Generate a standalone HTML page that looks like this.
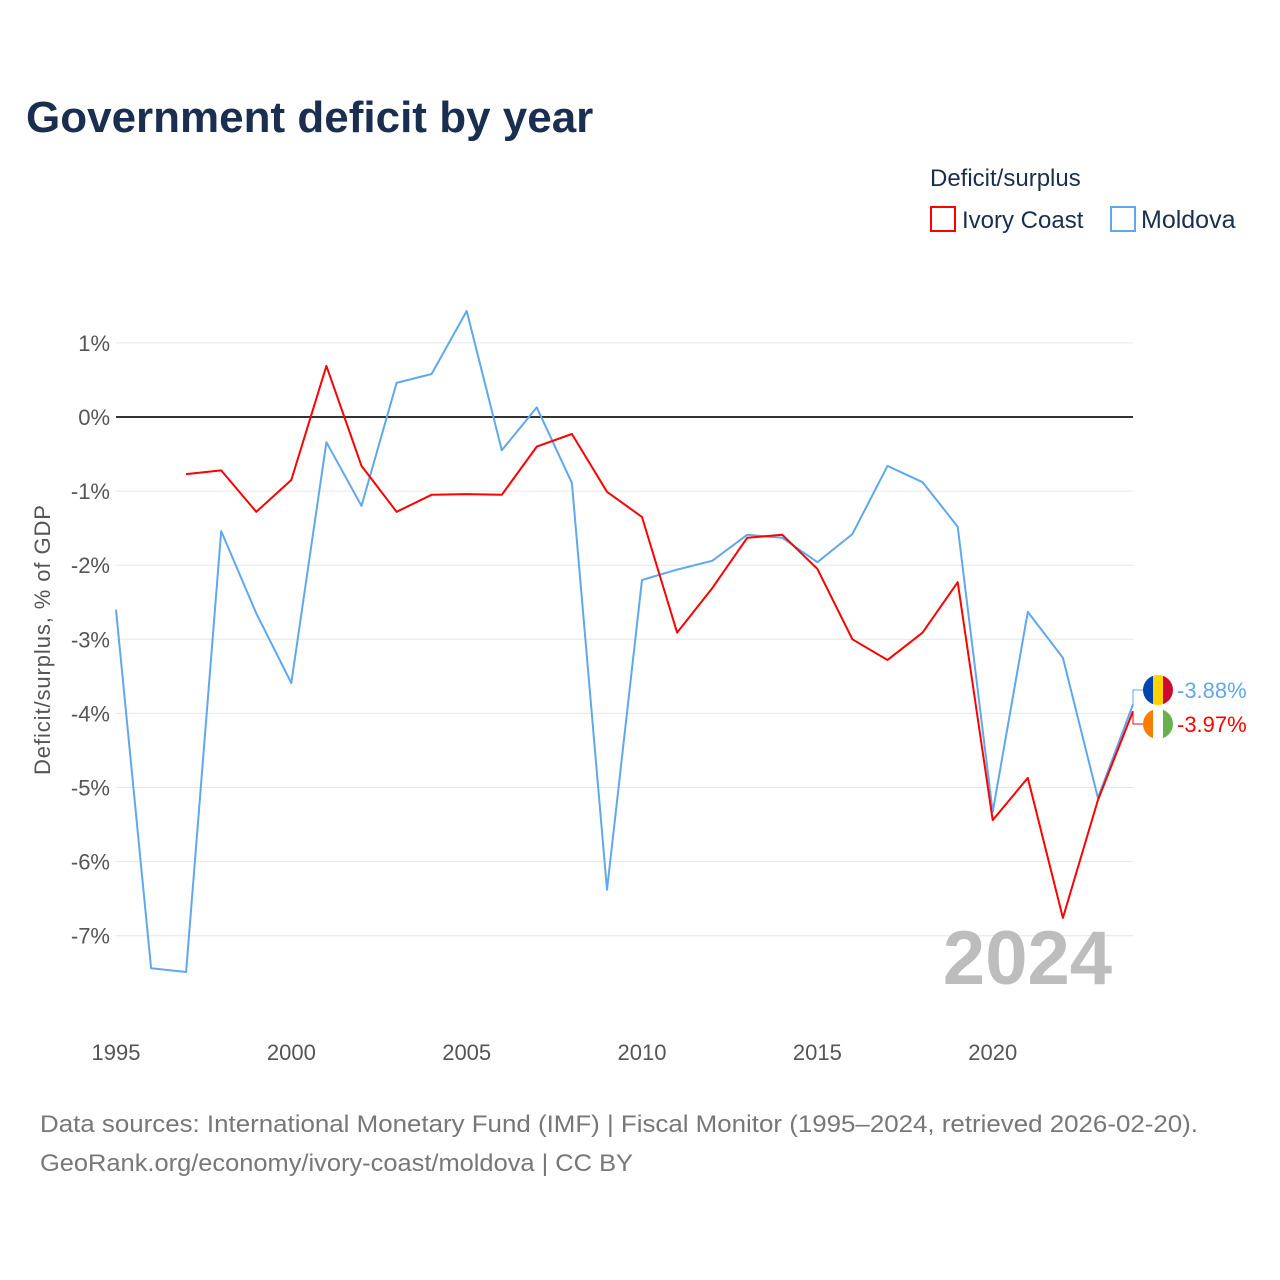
<!DOCTYPE html>
<html><head><meta charset="utf-8">
<style>
body{margin:0;background:#fff;font-family:"Liberation Sans",sans-serif;}
#wrap{position:relative;width:1280px;height:1280px;overflow:hidden;}
</style></head>
<body>
<div id="wrap">
<svg id="chart" width="1280" height="1280" style="position:absolute;left:0;top:0"></svg>
</div>
<script>
const years=[1995,1996,1997,1998,1999,2000,2001,2002,2003,2004,2005,2006,2007,2008,2009,2010,2011,2012,2013,2014,2015,2016,2017,2018,2019,2020,2021,2022,2023,2024];
const moldova=[-2.60,-7.44,-7.49,-1.54,-2.65,-3.59,-0.34,-1.20,0.46,0.58,1.43,-0.45,0.13,-0.89,-6.38,-2.20,-2.06,-1.94,-1.59,-1.63,-1.96,-1.58,-0.66,-0.88,-1.48,-5.33,-2.63,-3.25,-5.14,-3.88];
const ivoryCoast=[null,null,-0.77,-0.72,-1.28,-0.85,0.69,-0.66,-1.28,-1.05,-1.04,-1.05,-0.40,-0.23,-1.01,-1.35,-2.91,-2.31,-1.63,-1.59,-2.05,-3.00,-3.28,-2.91,-2.23,-5.44,-4.87,-6.76,-5.17,-3.97];
const yTicks=[1,0,-1,-2,-3,-4,-5,-6,-7];
const xTicks=[1995,2000,2005,2010,2015,2020];

const NS="http://www.w3.org/2000/svg";
const svg=document.getElementById('chart');
const X=y=>116+(y-1995)*(1133-116)/29;
const Y=v=>417-v*74.1;
function el(t,a,txt){const e=document.createElementNS(NS,t);for(const k in a)e.setAttribute(k,a[k]);if(txt!=null)e.textContent=txt;svg.appendChild(e);return e;}

let t=el('text',{x:26,y:132,'font-size':44,'font-weight':'bold',fill:'#1a2e4f'},'Government deficit by year');


t=el('text',{x:930,y:186,'font-size':24,fill:'#1a2e4f'},'Deficit/surplus');

let r=el('rect',{x:931,y:207,width:24,height:24,fill:'none',stroke:'#ff0000','stroke-width':2});

t=el('text',{x:962,y:228,'font-size':24,fill:'#1a2e4f'},'Ivory Coast');

r=el('rect',{x:1111,y:207,width:24,height:24,fill:'none',stroke:'#5fa8ee','stroke-width':2});

t=el('text',{x:1141,y:228,'font-size':25,fill:'#1a2e4f'},'Moldova');


yTicks.forEach(v=>{
  const l=el('line',{x1:116,x2:1133,y1:Y(v),y2:Y(v),stroke:v===0?'#333':'#e6e6e6','stroke-width':v===0?2:1});
  
  const tx=el('text',{x:110,y:Y(v)+8,'font-size':22,fill:'#555','text-anchor':'end'},v+'%');
  
});
xTicks.forEach(y=>{
  const tx=el('text',{x:X(y),y:1060,'font-size':22,fill:'#555','text-anchor':'middle'},String(y));
  
});
t=el('text',{x:0,y:0,'font-size':22,fill:'#555','text-anchor':'middle',textLength:270,transform:'translate(50,640) rotate(-90)'},'Deficit/surplus, % of GDP');


t=el('text',{x:1112,y:984,'font-size':76,'font-weight':'bold',fill:'#bdbdbd','text-anchor':'end'},'2024');


function series(vals,color,name){
  let d='';vals.forEach((v,i)=>{if(v==null)return;d+=(d?'L':'M')+X(years[i]).toFixed(1)+','+Y(v).toFixed(1);});
  const p=el('path',{d,fill:'none',stroke:color,'stroke-width':2,'stroke-linejoin':'round'});
  
}
series(moldova,'#5fa8ee','moldova-line');
series(ivoryCoast,'#ff0000','ivory-coast-line');

const mv=moldova[moldova.length-1], iv=ivoryCoast[ivoryCoast.length-1];
const ly1=690, ly2=724;
let c=el('path',{d:`M${X(2024)},${Y(mv)} L1133,${ly1} L1143,${ly1}`,fill:'none',stroke:'#5fa8ee','stroke-width':1});

c=el('path',{d:`M${X(2024)},${Y(iv)} L1133,${ly2} L1143,${ly2}`,fill:'none',stroke:'#ff0000','stroke-width':1});

const defs=el('defs',{});
defs.innerHTML=`<clipPath id="c1"><circle cx="1158" cy="${ly1}" r="15"/></clipPath><clipPath id="c2"><circle cx="1158" cy="${ly2}" r="15"/></clipPath>`;
let g=el('g',{});
[['#0046ae',1143],['#ffd200',1153],['#cc092f',1163]].forEach(([f,x])=>{const s=document.createElementNS(NS,'rect');s.setAttribute('x',x);s.setAttribute('y',ly1-15);s.setAttribute('width',10);s.setAttribute('height',30);s.setAttribute('fill',f);s.setAttribute('clip-path','url(#c1)');g.appendChild(s);});
let g2=el('g',{});
[['#f77f00',1143],['#ffffff',1153],['#6ab04c',1163]].forEach(([f,x])=>{const s=document.createElementNS(NS,'rect');s.setAttribute('x',x);s.setAttribute('y',ly2-15);s.setAttribute('width',10);s.setAttribute('height',30);s.setAttribute('fill',f);s.setAttribute('clip-path','url(#c2)');g2.appendChild(s);});
t=el('text',{x:1177,y:ly1+8,'font-size':22,fill:'#5fa8ee'},mv.toFixed(2)+'%');

t=el('text',{x:1177,y:ly2+8,'font-size':22,fill:'#ff0000'},iv.toFixed(2)+'%');


t=el('text',{x:40,y:1132,'font-size':24,fill:'#777',textLength:1158,lengthAdjust:'spacingAndGlyphs'},'Data sources: International Monetary Fund (IMF) | Fiscal Monitor (1995–2024, retrieved 2026-02-20).');

t=el('text',{x:40,y:1171,'font-size':24,fill:'#777',textLength:593,lengthAdjust:'spacingAndGlyphs'},'GeoRank.org/economy/ivory-coast/moldova | CC BY');

</script>
</body></html>
